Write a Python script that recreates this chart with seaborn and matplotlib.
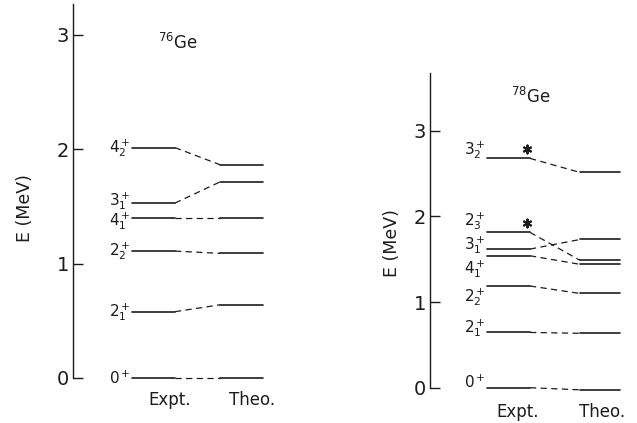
import matplotlib
matplotlib.use("Agg")
import matplotlib.pyplot as plt
import seaborn as sns
import pandas as pd

# 76Ge levels (MeV)
ge76_labels = ["0^+", "2^+_1", "2^+_2", "4^+_1", "3^+_1", "4^+_2"]
ge76_expt = [0.0, 0.58, 1.11, 1.40, 1.53, 2.015]
ge76_theo = [0.0, 0.64, 1.09, 1.40, 1.715, 1.865]

# 78Ge levels (MeV)
ge78_labels = ["0^+", "2^+_1", "2^+_2", "4^+_1", "3^+_1", "2^+_3", "3^+_2"]
ge78_expt = [0.0, 0.645, 1.187, 1.54, 1.618, 1.813, 2.677]
ge78_theo = [-0.025, 0.635, 1.10, 1.44, 1.73, 1.487, 2.513]
ge78_starred = ["2^+_3", "3^+_2"]

y_ticks = [0, 1, 2, 3]
columns = ["Expt.", "Theo."]

INK = "#1c1c1c"


def draw_scheme(ax, labels, expt, theo, xs, label_shift, starred=()):
    x0, x1, x2, x3 = xs
    solid = []
    dashed = []
    for i, (e, t) in enumerate(zip(expt, theo)):
        solid += [(f"e{i}", x0, e), (f"e{i}", x1, e), (f"t{i}", x2, t), (f"t{i}", x3, t)]
        dashed += [(f"d{i}", x1, e), (f"d{i}", x2, t)]
    solid = pd.DataFrame(solid, columns=["seg", "x", "E"])
    dashed = pd.DataFrame(dashed, columns=["seg", "x", "E"])
    sns.lineplot(data=solid, x="x", y="E", units="seg", estimator=None, sort=False,
                 color=INK, lw=1.2, ax=ax, legend=False)
    sns.lineplot(data=dashed, x="x", y="E", units="seg", estimator=None, sort=False,
                 color=INK, lw=0.9, linestyle=(0, (5, 3.5)), ax=ax, legend=False)
    for lab, e, dy in zip(labels, expt, label_shift):
        ax.text(x0 - 1, e + dy, f"${lab}$", ha="right", va="center",
                fontsize=11, color=INK)
    for lab, e in zip(labels, expt):
        if lab in starred:
            ax.scatter([x1 - 3], [e + 0.115], marker=(6, 2, 0), s=32, lw=1.5,
                       color=INK, zorder=3)


fig = plt.figure(figsize=(6.37, 4.23), dpi=100)
sns.set_style("ticks")
plt.rcParams["font.family"] = ["DejaVu Sans"]
plt.rcParams["mathtext.fontset"] = "dejavusans"

ax1 = fig.add_axes([73 / 637, 0.0253, 227 / 637, 0.965])
ax2 = fig.add_axes([430 / 637, 0.0227, 200 / 637, 0.804])

draw_scheme(ax1, ge76_labels, ge76_expt, ge76_theo, (59, 102, 147, 190),
            [0.0, 0.0, 0.0, -0.03, 0.02, 0.0])
draw_scheme(ax2, ge78_labels, ge78_expt, ge78_theo, (57, 100, 150, 190),
            [0.06, 0.05, -0.13, -0.16, 0.05, 0.13, 0.1], ge78_starred)

panels = [(ax1, 3.27, 227, "76", (105, 2.93), 16),
          (ax2, 3.67, 200, "78", (101, 3.39), 9)]
for ax, top, width, mass, (gx, gy), pad in panels:
    ax.set_xlim(0, width)
    ax.set_ylim(-0.3, top)
    for s in ["top", "right", "bottom"]:
        ax.spines[s].set_visible(False)
    ax.spines["left"].set_bounds(0, top)
    ax.spines["left"].set_color(INK)
    ax.spines["left"].set_linewidth(1.0)
    ax.set_xticks([])
    ax.set_yticks(y_ticks)
    ax.set_yticklabels([str(t) for t in y_ticks])
    ax.tick_params(axis="y", direction="in", length=7, width=1.0, pad=3,
                   labelsize=14, colors=INK)
    ax.set_xlabel("")
    ax.set_ylabel("E (MeV)", fontsize=12.5, color=INK, labelpad=pad)
    ax.text(gx, gy, f"$^{{{mass}}}$Ge", ha="center", va="center", fontsize=12, color=INK)
    ax.patch.set_alpha(0)

ax1.text(97, -0.19, columns[0], ha="center", va="center", fontsize=12, color=INK)
ax1.text(179, -0.19, columns[1], ha="center", va="center", fontsize=12, color=INK)
ax2.text(88, -0.28, columns[0], ha="center", va="center", fontsize=12, color=INK)
ax2.text(172, -0.28, columns[1], ha="center", va="center", fontsize=12, color=INK)

fig.savefig("out.png", dpi=100)
